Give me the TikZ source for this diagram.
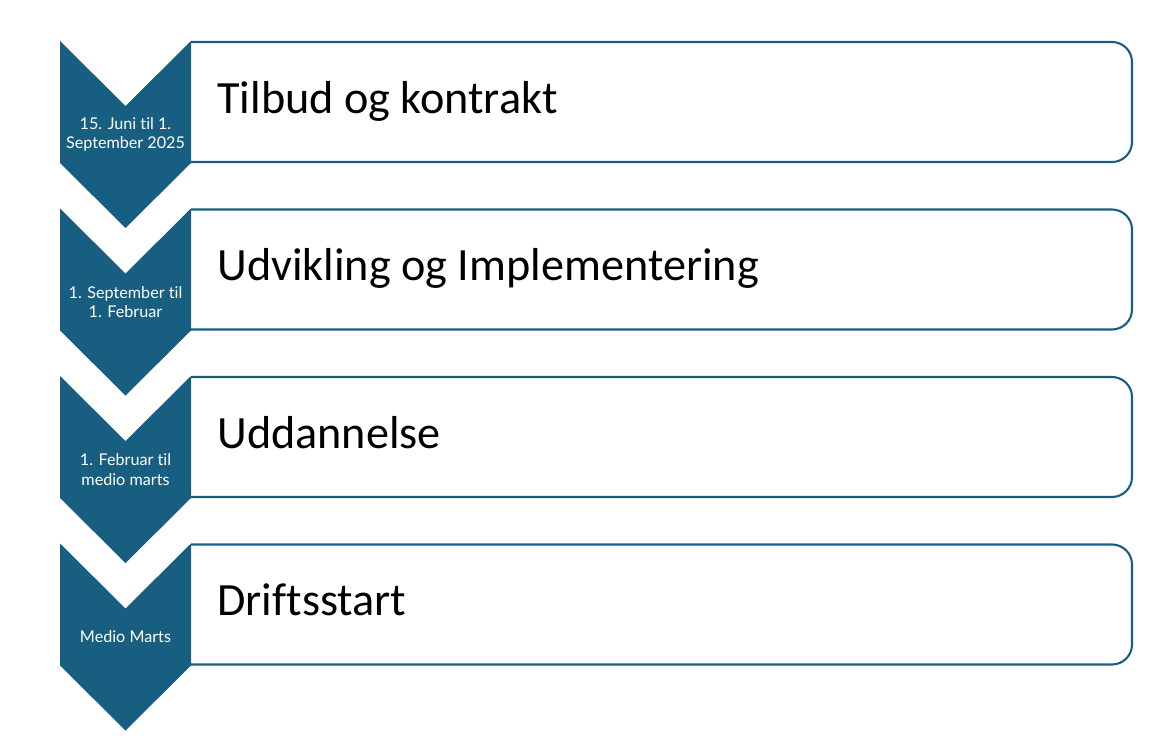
\documentclass[tikz,border=0pt]{standalone}
\usepackage{fontspec}
\setmainfont[Ligatures=NoCommon]{Carlito}
\newfontfamily\datefont[Ligatures=NoCommon]{Lato}
\usepackage{xcolor}
\usepackage{tikz}
\usetikzlibrary{positioning}

\definecolor{phaseblue}{RGB}{24,94,128}

\tikzset{
  chevron/.style={fill=phaseblue, draw=none},
  box/.style={draw=none, minimum width=941*0.02cm, minimum height=120*0.02cm,
    inner sep=0pt, outer sep=0pt, anchor=north west},
  boxline/.style={draw=phaseblue, line width=1.2pt, rounded corners=0.4cm},
  datetext/.style={text=white, align=center, font=\datefont\fontsize{9.2}{11}\selectfont,
    inner sep=0pt},
  titletext/.style={text=black, anchor=base west, inner sep=0pt,
    font=\fontsize{26.3}{31}\selectfont}
}

\begin{document}
\begin{tikzpicture}[x=0.02cm, y=-0.02cm]
        \useasboundingbox (0,0) rectangle (1171,751);
        %faser: nr / datoer / titel
        \foreach \i/\dato/\titel in {
                0/{15. Juni til 1.\\September 2025}/{Tilbud og kontrakt},
                1/{1. September til\\1. Februar}/{Udvikling og Implementering},
                2/{1. Februar til\\medio marts}/{Uddannelse},
                3/{Medio Marts}/{Driftsstart}}
        {
                \pgfmathsetmacro{\top}{41+167.5*\i}
                %boks til hoejre
                \node[box] (box\i) at (191,\top+1) {};
                \draw[boxline] (box\i.north west) -- (box\i.north east)
                        -- (box\i.south east) -- (box\i.south west);
                %pil (chevron)
                \fill[chevron] (60,\top) -- (125.5,\top+65) -- (191,\top)
                        -- (191,\top+122) -- (125.5,\top+187) -- (60,\top+122) -- cycle;
                \node[datetext] (dato\i) at (125.5,\top+93.5) {\dato};
                \node[titletext] (titel\i) at (217,\top+72) {\titel};
        };
\end{tikzpicture}
\end{document}
